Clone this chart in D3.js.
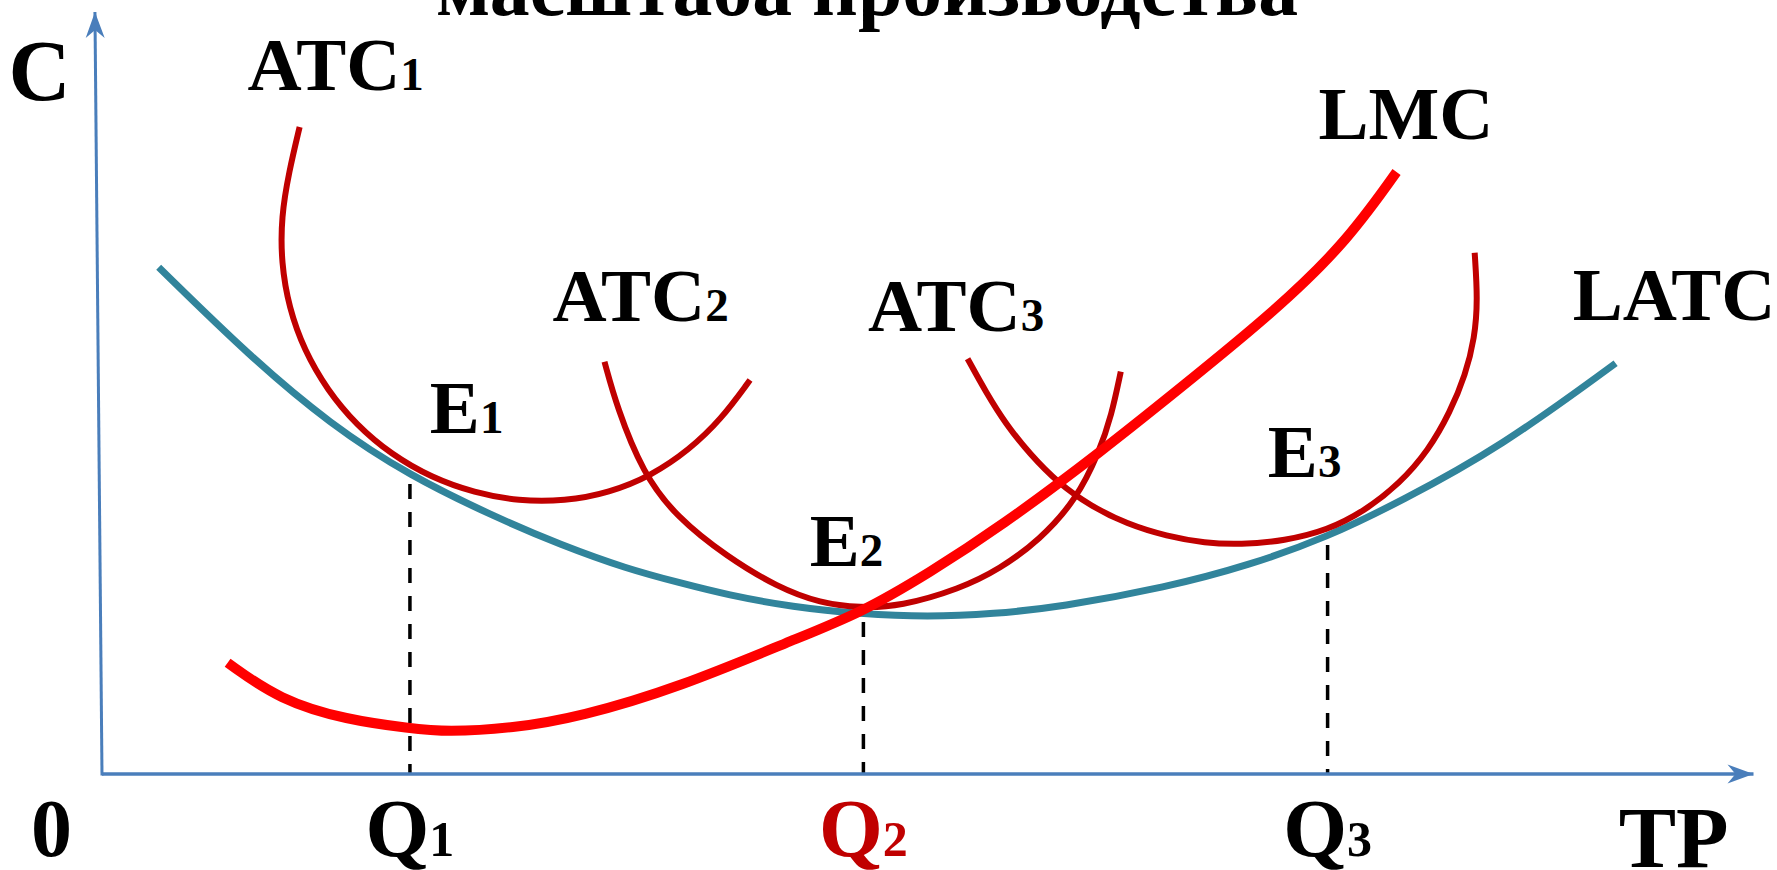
<!DOCTYPE html>
<html>
<head>
<meta charset="utf-8">
<script src="https://cdn.jsdelivr.net/npm/d3@7"></script>
<style>
body { margin: 0; background: #fff; overflow: hidden; }
text { font-family: "Liberation Serif", "Times New Roman", serif; font-weight: bold; }
</style>
</head>
<body>
<div id="chart"></div>
<script>
// output Q on x (0..10), cost C on y (0..10)
const latc = [[0.37,6.65],[0.97,5.47],[1.49,4.59],[2.01,3.91],[2.58,3.36],[2.99,3.01],[3.43,2.69],
  [3.77,2.51],[4.08,2.35],[4.51,2.19],[4.95,2.10],[5.39,2.06],[5.82,2.10],[6.25,2.19],[6.95,2.45],
  [7.49,2.74],[8.00,3.11],[8.47,3.57],[9.13,4.29],[9.88,5.39]];

const lmc = [[0.82,1.46],[1.16,0.97],[1.60,0.71],[2.01,0.60],[2.25,0.55],[2.68,0.60],[3.12,0.75],
  [3.77,1.14],[4.51,1.76],[4.95,2.11],[5.40,2.64],[5.86,3.24],[6.51,4.21],[7.17,5.28],[7.62,6.02],
  [8.10,6.92],[8.45,7.90]];

const atc1 = [[1.29,8.49],[1.22,7.90],[1.17,7.31],[1.17,6.71],[1.22,6.12],[1.32,5.56],[1.47,5.04],
  [1.66,4.58],[1.89,4.19],[2.15,3.89],[2.43,3.69],[2.72,3.58],[3.02,3.58],[3.31,3.69],[3.59,3.92],
  [3.83,4.25],[4.04,4.65],[4.23,5.17]];

const atc2 = [[3.28,5.41],[3.36,4.82],[3.53,3.95],[3.75,3.37],[4.08,2.85],[4.41,2.45],[4.69,2.24],
  [4.95,2.18],[5.21,2.20],[5.60,2.43],[5.86,2.69],[6.12,3.07],[6.36,3.60],[6.51,4.23],[6.59,4.71],
  [6.65,5.28]];

const atc3 = [[5.65,5.45],[5.77,5.01],[5.90,4.59],[6.06,4.19],[6.24,3.82],[6.45,3.52],[6.69,3.28],
  [6.95,3.12],[7.20,3.03],[7.43,3.01],[7.72,3.06],[8.00,3.20],[8.24,3.45],[8.47,3.81],[8.66,4.25],
  [8.80,4.75],[8.90,5.24],[8.96,5.72],[8.98,6.22],[8.96,6.84]];

// equilibrium points E1..E3 on LATC
const eqQ = [2.01, 4.97, 8.00];
const eqC = [3.91, 2.10, 3.11];
const qSubs = ['1', '2', '3'];

// curve / point labels (left edge, baseline)
const labelNames = ['ATC', 'ATC', 'ATC', 'LMC', 'LATC', 'E', 'E', 'E'];
const labelSubs = ['1', '2', '3', '', '', '1', '2', '3'];
const labelX = [0.95, 2.94, 5.00, 7.94, 9.60, 2.14, 4.62, 7.61];
const labelY = [8.98, 5.94, 5.81, 8.33, 5.96, 4.48, 2.73, 3.90];

const xMax = 10.78, yMax = 10;

const width = 1777, height = 870;

const svg = d3.select('#chart')
              .append('svg')
              .attr('width', width)
              .attr('height', height);

svg.append('rect').attr('width', width).attr('height', height).attr('fill', '#fff');

let x = d3.scaleLinear().domain([0, 10]).range([102, 1634]);
let y = d3.scaleLinear().domain([0, 10]).range([774, 12]);

let line = d3.line()
             .x(d => x(d[0]))
             .y(d => y(d[1]))
             .curve(d3.curveBasis);

// title, cut by the top edge
svg.append('text')
   .attr('x', 867)
   .attr('y', 15)
   .attr('text-anchor', 'middle')
   .attr('textLength', 862)
   .attr('lengthAdjust', 'spacingAndGlyphs')
   .style('font-size', '80px')
   .text('масштаба производства');

// dashed drop lines
svg.selectAll('.drop')
   .data(eqQ)
   .enter()
   .append('line')
   .attr('class', 'drop')
   .attr('x1', d => x(d))
   .attr('x2', d => x(d))
   .attr('y1', (d, i) => y(eqC[i]) + 8)
   .attr('y2', y(0))
   .style('stroke', '#000')
   .style('stroke-width', 3.5)
   .style('stroke-dasharray', '15,13');

// stealth arrow head
svg.append('defs').append('marker')
   .attr('id', 'arr')
   .attr('viewBox', '-28 -11 30 22')
   .attr('markerWidth', 30)
   .attr('markerHeight', 22)
   .attr('refX', 0)
   .attr('refY', 0)
   .attr('markerUnits', 'userSpaceOnUse')
   .attr('orient', 'auto')
   .append('path')
   .attr('d', 'M0,0 L-26,-9.5 L-18,0 L-26,9.5 Z')
   .attr('fill', '#4A7EBB');

// axes
const axisColor = '#4A7EBB';
svg.append('line')
   .attr('x1', x(0)).attr('y1', y(0))
   .attr('x2', x(xMax)).attr('y2', y(0))
   .style('stroke', axisColor).style('stroke-width', 3.5)
   .attr('marker-end', 'url(#arr)');

svg.append('line')
   .attr('x1', x(0)).attr('y1', y(0) + 1.5)
   .attr('x2', x(-0.046)).attr('y2', y(yMax))
   .style('stroke', axisColor).style('stroke-width', 3)
   .attr('marker-end', 'url(#arr)');

// curves
svg.append('path').datum(latc)
   .attr('d', line)
   .style('fill', 'none').style('stroke', '#31849B').style('stroke-width', 7);

[atc1, atc2, atc3].forEach(c => {
  svg.append('path').datum(c)
     .attr('d', line)
     .style('fill', 'none').style('stroke', '#C00000').style('stroke-width', 6);
});

svg.append('path').datum(lmc)
   .attr('d', line)
   .style('fill', 'none').style('stroke', '#FF0000').style('stroke-width', 10);

// curve labels
labelNames.forEach((n, i) => {
  let t = svg.append('text')
             .attr('x', x(labelX[i]))
             .attr('y', y(labelY[i]))
             .style('font-size', '75px')
             .style('fill', '#000');
  t.append('tspan').text(n);
  if (labelSubs[i]) t.append('tspan').style('font-size', '47px').text(labelSubs[i]);
});

// axis labels
svg.append('text')
   .attr('x', x(-0.61)).attr('y', y(8.85))
   .style('font-size', '86px')
   .text('C');

svg.append('text')
   .attr('x', x(-0.33)).attr('y', y(-1.08))
   .attr('text-anchor', 'middle')
   .style('font-size', '82px')
   .text('0');

eqQ.forEach((q, i) => {
  let t = svg.append('text')
             .attr('x', x(q)).attr('y', y(-1.08))
             .attr('text-anchor', 'middle')
             .style('font-size', '82px')
             .style('fill', i == 1 ? '#C00000' : '#000');
  t.append('tspan').text('Q');
  t.append('tspan').style('font-size', '50px').text(qSubs[i]);
});

svg.append('text')
   .attr('x', x(9.90)).attr('y', y(-1.22))
   .style('font-size', '86px')
   .text('TP');
</script>
</body>
</html>
